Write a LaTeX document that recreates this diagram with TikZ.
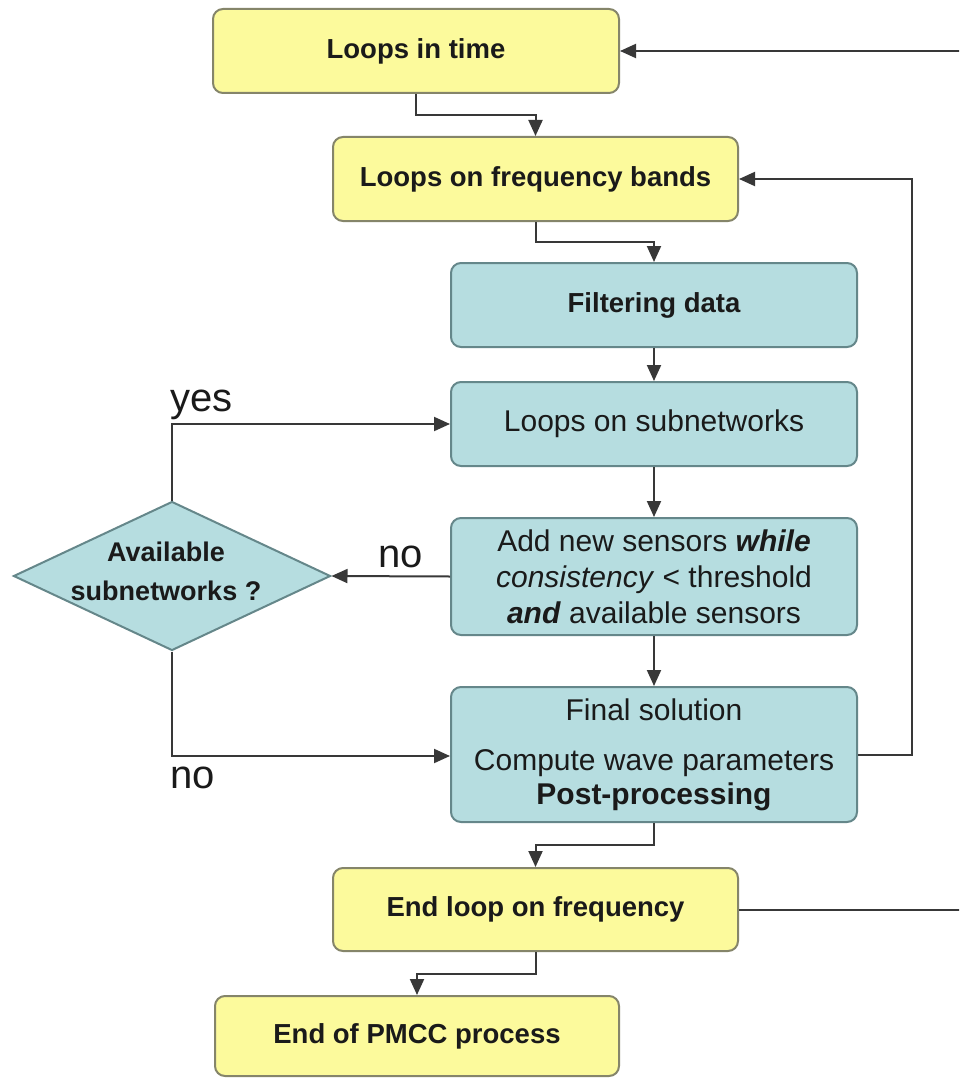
\documentclass[tikz,border=0pt]{standalone}
\usepackage{fontspec}
\setmainfont{Liberation Sans}
\usetikzlibrary{arrows.meta,shapes.geometric,calc}
\definecolor{yfill}{HTML}{FCFA9C}
\definecolor{ydraw}{HTML}{85856A}
\definecolor{bfill}{HTML}{B6DDE0}
\definecolor{bdraw}{HTML}{65878A}
\definecolor{lcol}{HTML}{383838}
\definecolor{txt}{HTML}{1A1A1A}
\begin{document}
\begin{tikzpicture}[x=1pt,y=-1pt,
  box/.style={draw, rounded corners=10pt, line width=2pt, inner sep=0pt, text=txt, align=center},
  ybox/.style={box, fill=yfill, draw=ydraw, minimum width=405pt, minimum height=84pt,
               font=\bfseries\fontsize{27.5}{33}\selectfont},
  bbox/.style={box, fill=bfill, draw=bdraw, minimum width=406pt, minimum height=84pt,
               font=\fontsize{30}{36}\selectfont},
  dia/.style={diamond, draw=bdraw, fill=bfill, line width=2pt, inner sep=0pt,
              minimum width=317pt, minimum height=149pt},
  conn/.style={draw=lcol, line width=2pt, -{Triangle[length=16pt,width=14pt]}},
  lab/.style={font=\fontsize{40}{48}\selectfont, text=txt, inner sep=0pt, anchor=base west}]
\useasboundingbox (0,0) rectangle (959,1078);
\clip (0,0) rectangle (959,1078);
\fill[white] (0,0) rectangle (959,1078);

% nodes
\node[ybox, minimum width=406pt] (time) at (416,51) {Loops in time};
\node[ybox] (freq) at (535.5,179) {Loops on frequency bands};
\node[bbox, font=\bfseries\fontsize{27.5}{33}\selectfont] (filt) at (654,305) {Filtering data};
\node[bbox] (sub) at (654,424) {Loops on subnetworks};
\node[bbox, minimum height=117pt] (add) at (654,576.5)
  {Add new sensors \textbf{\textit{while}}\\ \textit{consistency} < threshold\\ \textbf{\textit{and}} available sensors};
\node[bbox, minimum height=135pt, font=\fontsize{30}{34}\selectfont] (final) at (654,754.5)
  {Final solution\\[16pt] Compute wave parameters\\ \textbf{Post-processing}};
\node[ybox, minimum height=83pt] (endf) at (535.5,909.5) {End loop on frequency};
\node[ybox, minimum width=404pt, minimum height=80pt] (endp) at (417,1036) {End of PMCC process};
\node[dia] (dec) at (172,576) {};
\node[align=center, inner sep=0pt, text=txt, font=\bfseries\fontsize{27}{39}\selectfont] (dectext) at (166,571)
  {Available\\ subnetworks ?};

% connectors
\coordinate (m1) at ($(time.south)!0.5!(freq.north)$);
\draw[conn] (time.south) |- (m1) -| (freq.north);
\coordinate (m2) at ($(freq.south)!0.5!(filt.north)$);
\draw[conn] (freq.south) |- (m2) -| (filt.north);
\draw[conn] (filt.south) -- (sub.north);
\draw[conn] (sub.south) -- (add.north);
\draw[conn] (add.south) -- (final.north);
\draw[conn] (add.west) -- (dec.east);
\draw[conn] (dec.north) |- (sub.west);
\draw[conn] (dec.south) |- ([yshift=-1.5pt]final.west);
\draw[conn] (final.east) -- ++(54,0) |- (freq.east);
\coordinate (m3) at ($(final.south)!0.5!(endf.north)$);
\draw[conn] (final.south) |- (m3) -| (endf.north);
\coordinate (m4) at ($(endf.south)!0.5!(endp.north)$);
\draw[conn] (endf.south) |- (m4) -| (endp.north);
\draw[conn] (endf.east) -- ++(240,0) |- (time.east);

% labels
\node[lab] (yes) at (170,411) {yes};
\node[lab] (no1) at (378,567) {no};
\node[lab] (no2) at (170,788) {no};
\end{tikzpicture}
\end{document}
